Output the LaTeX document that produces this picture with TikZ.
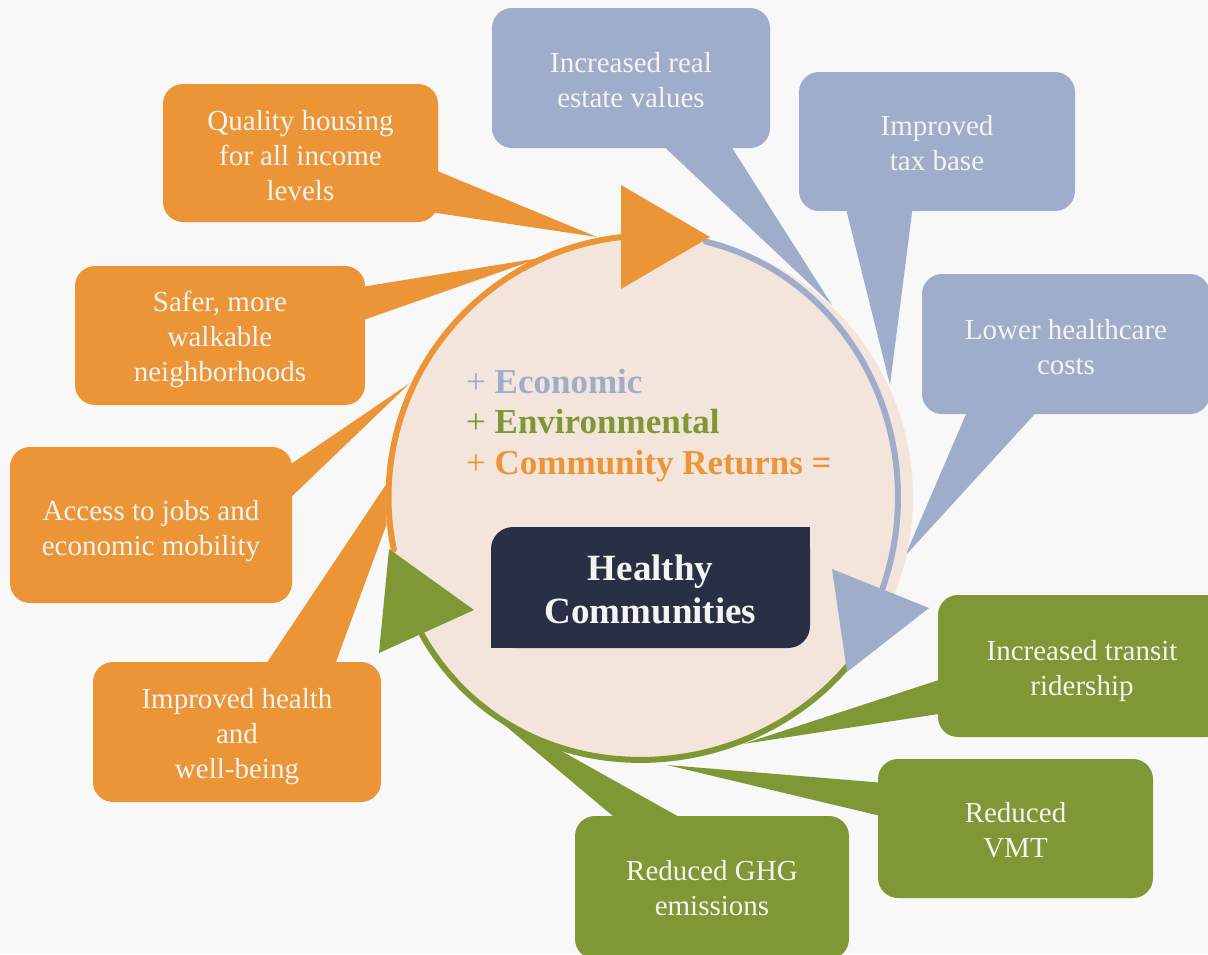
\documentclass[tikz,border=0pt]{standalone}
\usepackage{fontspec}
\setmainfont{Liberation Serif}
\usetikzlibrary{calc}
\definecolor{bg}{HTML}{F8F8F8}
\definecolor{peach}{HTML}{F3E5DC}
\definecolor{corange}{HTML}{EB9537}
\definecolor{cblue}{HTML}{9FADCB}
\definecolor{cgreen}{HTML}{7F9835}
\definecolor{navy}{HTML}{292F45}
\definecolor{txt}{HTML}{F4F4F4}
\begin{document}
\begin{tikzpicture}[x=1pt,y=-1pt,
  callout/.style={rectangle, rounded corners=20pt, inner sep=0pt},
  obox/.style={callout, fill=corange},
  bbox/.style={callout, fill=cblue},
  gbox/.style={callout, fill=cgreen},
  lbl/.style={align=center, inner sep=0pt, text=txt, font=\fontsize{29pt}{35pt}\selectfont},
  arcline/.style={line width=6pt, line cap=round},
  headline/.style={anchor=base west, inner sep=0pt, font=\fontsize{35pt}{41pt}\selectfont}
]
\useasboundingbox (0,0) rectangle (1208,954);
\fill[bg] (0,0) rectangle (1208,954);

% ---- callout tails ----
\fill[corange] (430,168) -- (597,237) -- (430,212) -- cycle;
\fill[corange] (355,288) -- (540,258) -- (355,323) -- cycle;
\fill[corange] (285,468) -- (410,383) -- (285,503) -- cycle;
\fill[corange] (262,670) -- (389,480) -- (390,515) -- (333,670) -- cycle;
\fill[cblue] (657,140) -- (832,305) -- (727,140) -- cycle;
\fill[cblue] (845,205) -- (890,385) -- (913,205) -- cycle;
\fill[cblue] (970,405) -- (905,556) -- (1043,405) -- cycle;
\fill[cgreen] (945,678) -- (743,744) -- (945,713) -- cycle;
\fill[cgreen] (885,783) -- (667,765) -- (885,817) -- cycle;
\fill[cgreen] (620,822) -- (483,707) -- (688,822) -- cycle;

% ---- callout boxes ----
\node[obox, minimum width=275pt, minimum height=138pt] (q) at (300.5,153) {};
\node[obox, minimum width=290pt, minimum height=139pt] (s) at (220,335.5) {};
\node[obox, minimum width=282pt, minimum height=156pt] (a) at (151,525) {};
\node[obox, minimum width=288pt, minimum height=140pt] (h) at (237,732) {};
\node[bbox, minimum width=278pt, minimum height=140pt] (r) at (631,78) {};
\node[bbox, minimum width=276pt, minimum height=139pt] (t) at (937,141.5) {};
\node[bbox, minimum width=288pt, minimum height=140pt] (l) at (1066,344) {};
\node[gbox, minimum width=288pt, minimum height=142pt] (it) at (1082,666) {};
\node[gbox, minimum width=275pt, minimum height=139pt] (v) at (1015.5,828.5) {};
\node[gbox, minimum width=274pt, minimum height=143pt] (g) at (712,887.5) {};

\node[lbl] (qt) at ($(q.center)+(0,3)$) {Quality housing\\for all income\\levels};
\node[lbl] (st) at ($(s.center)+(0,4)$) {Safer, more\\walkable\\neighborhoods};
\node[lbl] (at) at ($(a.center)+(0,6)$) {Access to jobs and\\economic mobility};
\node[lbl] (ht) at ($(h.center)+(0,5)$) {Improved health\\and\\well-being};
\node[lbl] (rt) at ($(r.center)+(0,2)$) {Increased real\\estate values};
\node[lbl] (tt) at ($(t.center)+(0,2)$) {Improved\\tax base};
\node[lbl] (lt) at ($(l.center)+(0,3)$) {Lower healthcare\\costs};
\node[lbl] (itt) at ($(it.center)+(0,5)$) {Increased transit\\ridership};
\node[lbl] (vt) at ($(v.center)+(0,2)$) {Reduced\\VMT};
\node[lbl] (gt) at ($(g.center)+(0,1)$) {Reduced GHG\\emissions};

% ---- circle ----
\fill[peach] plot[domain=-180:180, samples=181, smooth]
  ({650+(263+7*pow(max(0,cos(\x+130)),4))*cos(\x)}, {497-(263+7*pow(max(0,cos(\x+130)),4))*sin(\x)}) -- cycle;

\draw[arcline, corange] plot[domain=95.5:191.6, samples=60, smooth]
  ({650+261.5*cos(\x)}, {497-261.5*sin(\x)});
\draw[arcline, cblue] plot[domain=-22.2:77.7, samples=60, smooth]
  ({650+(262-14*cos(\x)*cos(\x))*cos(\x)}, {497-(262-14*cos(\x)*cos(\x))*sin(\x)});
\draw[arcline, cgreen] plot[domain=-148.8:-40.5, samples=60, smooth]
  ({650+(260+8*pow(max(0,cos(\x+130)),4))*cos(\x)}, {497-(260+8*pow(max(0,cos(\x+130)),4))*sin(\x)});

% ---- arrowheads ----
\fill[corange] (621,185) -- (710,237) -- (621,289) -- cycle;
\fill[cblue] (832,569) -- (929,608) -- (847,672) -- cycle;
\fill[cgreen] (389,549) -- (474,610) -- (379,653) -- cycle;

% ---- centre text ----
\node[headline] (e1) at (466,393) {\textcolor{cblue}{+ \textbf{Economic}}};
\node[headline] (e2) at (466,433) {\textcolor{cgreen}{+ \textbf{Environmental}}};
\node[headline] (e3) at (466,474) {\textcolor{corange}{+ \textbf{Community Returns =}}};

% ---- Healthy Communities box ----
\node[rectangle, rounded corners=22pt, fill=navy, minimum width=319pt, minimum height=121pt, inner sep=0pt] (hc) at (650.5,587.5) {};
\fill[navy] (hc.north east) rectangle ++(-30,30);
\fill[navy] (hc.south west) rectangle ++(30,-30);
\node[align=center, text=txt, inner sep=0pt, font=\fontsize{37pt}{43pt}\selectfont\bfseries] (hct) at ($(hc.center)+(0,1.5)$) {Healthy\\Communities};
\end{tikzpicture}
\end{document}
